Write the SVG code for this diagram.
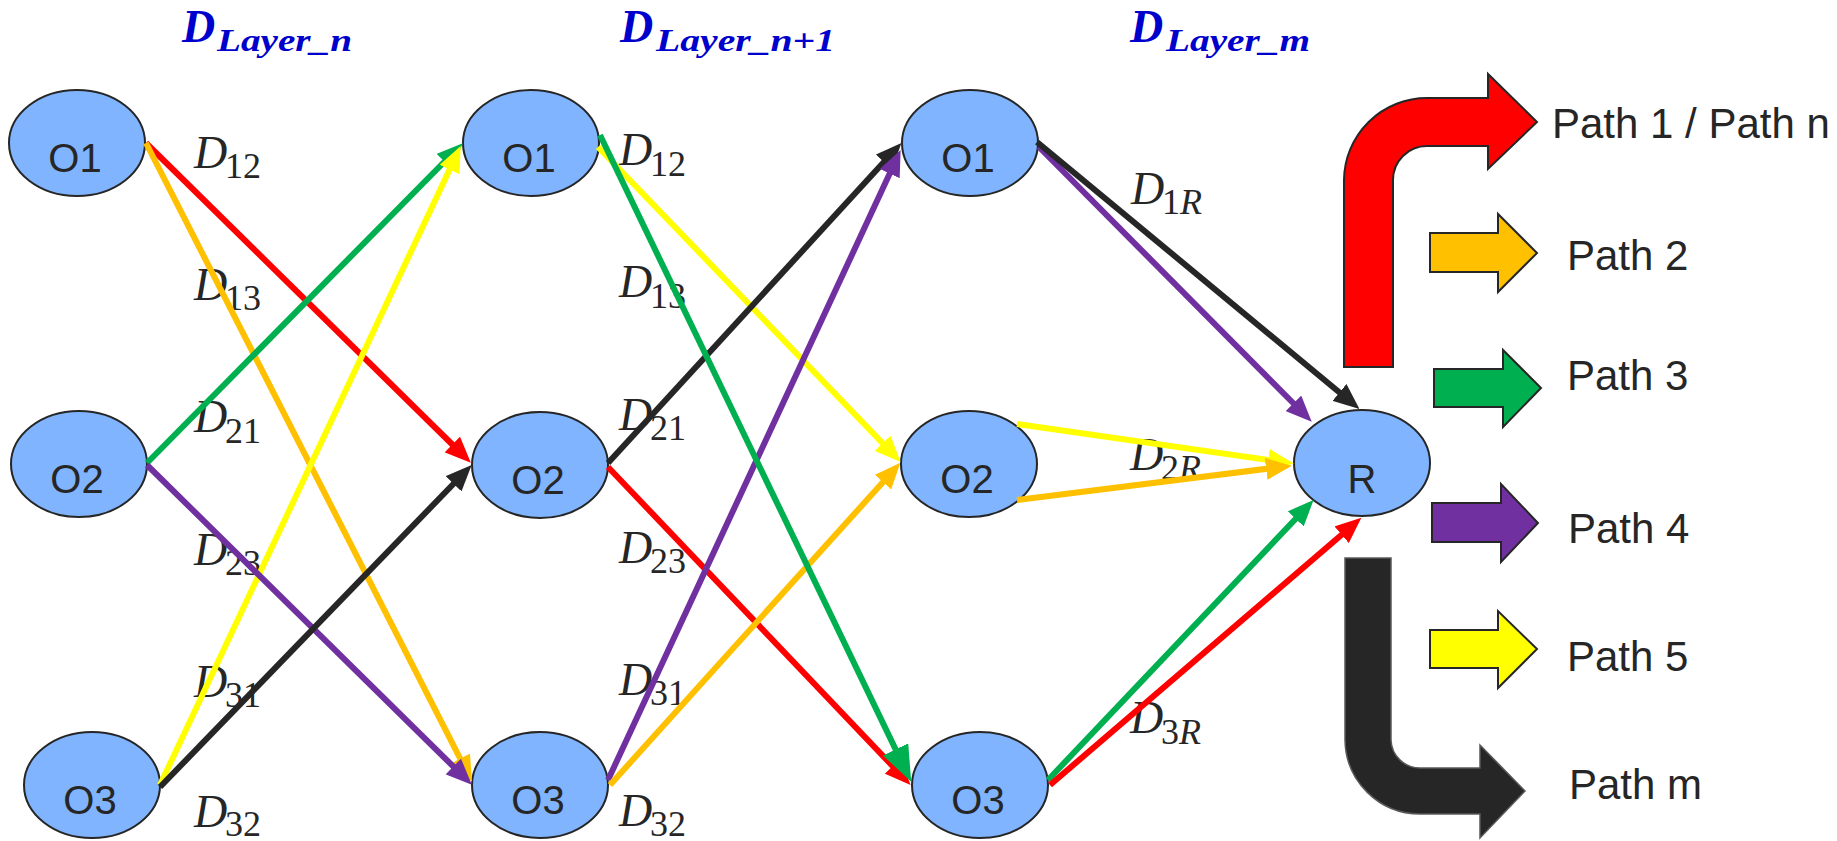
<svg xmlns="http://www.w3.org/2000/svg" width="1837" height="841" viewBox="0 0 1837 841">
<style>
.node ellipse{fill:#80B4FF;stroke:#262626;stroke-width:2}
.node text{font-family:"Liberation Sans",Arial,sans-serif;font-size:40px;fill:#262626;text-anchor:middle}
.lbl{font-family:"Liberation Serif","Times New Roman",serif;font-style:italic;font-size:46px;fill:#262626}
.sub{font-family:"Liberation Serif","Times New Roman",serif;font-style:normal;font-size:36px;fill:#262626}
.title{font-family:"Liberation Serif","Times New Roman",serif;font-weight:bold;font-style:italic;fill:#0000CC}
.leg{font-family:"Liberation Sans",Arial,sans-serif;font-size:42px;fill:#262626}
.blk{stroke:#262626;stroke-width:2}
.e{fill:none;stroke-width:6}
</style>
<defs>
<marker id="mR" markerUnits="userSpaceOnUse" markerWidth="26" markerHeight="22" refX="15" refY="11" orient="auto" viewBox="0 0 26 22"><path d="M0,0 L26,11 L0,22 z" fill="#FF0000"/></marker>
<marker id="mO" markerUnits="userSpaceOnUse" markerWidth="26" markerHeight="22" refX="15" refY="11" orient="auto" viewBox="0 0 26 22"><path d="M0,0 L26,11 L0,22 z" fill="#FFC000"/></marker>
<marker id="mG" markerUnits="userSpaceOnUse" markerWidth="26" markerHeight="22" refX="15" refY="11" orient="auto" viewBox="0 0 26 22"><path d="M0,0 L26,11 L0,22 z" fill="#00B050"/></marker>
<marker id="mGT" markerUnits="userSpaceOnUse" markerWidth="36" markerHeight="28" refX="24" refY="14" orient="auto" viewBox="0 0 36 28"><path d="M0,0 L36,14 L0,28 z" fill="#00B050"/></marker>
<marker id="mY" markerUnits="userSpaceOnUse" markerWidth="26" markerHeight="22" refX="15" refY="11" orient="auto" viewBox="0 0 26 22"><path d="M0,0 L26,11 L0,22 z" fill="#FFFF00"/></marker>
<marker id="mP" markerUnits="userSpaceOnUse" markerWidth="26" markerHeight="22" refX="15" refY="11" orient="auto" viewBox="0 0 26 22"><path d="M0,0 L26,11 L0,22 z" fill="#7030A0"/></marker>
<marker id="mK" markerUnits="userSpaceOnUse" markerWidth="26" markerHeight="22" refX="15" refY="11" orient="auto" viewBox="0 0 26 22"><path d="M0,0 L26,11 L0,22 z" fill="#262626"/></marker>
</defs>
<rect width="1837" height="841" fill="#FFFFFF"/>

<g id="titles">
<text class="title" x="182" y="42" font-size="46">D</text>
<text class="title" x="217" y="51" font-size="31" textLength="135" lengthAdjust="spacingAndGlyphs">Layer_n</text>
<text class="title" x="620" y="42" font-size="46">D</text>
<text class="title" x="656" y="51" font-size="31" textLength="179" lengthAdjust="spacingAndGlyphs">Layer_n+1</text>
<text class="title" x="1130" y="42" font-size="46">D</text>
<text class="title" x="1166" y="51" font-size="31" textLength="144" lengthAdjust="spacingAndGlyphs">Layer_m</text>
</g>

<g id="edge-labels">
<text class="lbl" x="194" y="168">D</text><text class="sub" x="225" y="178">12</text>
<text class="lbl" x="194" y="300">D</text><text class="sub" x="225" y="310">13</text>
<text class="lbl" x="194" y="432">D</text><text class="sub" x="225" y="443">21</text>
<text class="lbl" x="194" y="565">D</text><text class="sub" x="225" y="575">23</text>
<text class="lbl" x="194" y="697">D</text><text class="sub" x="225" y="707">31</text>
<text class="lbl" x="194" y="827">D</text><text class="sub" x="225" y="836">32</text>
<text class="lbl" x="619" y="165">D</text><text class="sub" x="650" y="176">12</text>
<text class="lbl" x="619" y="297">D</text><text class="sub" x="650" y="308">13</text>
<text class="lbl" x="619" y="430">D</text><text class="sub" x="650" y="440">21</text>
<text class="lbl" x="619" y="563">D</text><text class="sub" x="650" y="573">23</text>
<text class="lbl" x="619" y="695">D</text><text class="sub" x="650" y="705">31</text>
<text class="lbl" x="619" y="826">D</text><text class="sub" x="650" y="836">32</text>
<text class="lbl" x="1131" y="204">D</text><text class="sub" x="1162" y="214">1<tspan font-style="italic">R</tspan></text>
<text class="lbl" x="1130" y="470">D</text><text class="sub" x="1161" y="480">2<tspan font-style="italic">R</tspan></text>
<text class="lbl" x="1130" y="733">D</text><text class="sub" x="1161" y="744">3<tspan font-style="italic">R</tspan></text>
</g>

<g id="n1-O1" class="node"><ellipse cx="77" cy="143" rx="68" ry="53"/><text x="75" y="172">O1</text></g>
<g id="n1-O2" class="node"><ellipse cx="79" cy="464" rx="68" ry="53"/><text x="77" y="493">O2</text></g>
<g id="n1-O3" class="node"><ellipse cx="92" cy="785" rx="68" ry="53"/><text x="90" y="814">O3</text></g>
<g id="n2-O1" class="node"><ellipse cx="531" cy="143" rx="68" ry="53"/><text x="529" y="172">O1</text></g>
<g id="n2-O2" class="node"><ellipse cx="540" cy="465" rx="68" ry="53"/><text x="538" y="494">O2</text></g>
<g id="n2-O3" class="node"><ellipse cx="540" cy="785" rx="68" ry="53"/><text x="538" y="814">O3</text></g>
<g id="n3-O1" class="node"><ellipse cx="970" cy="143" rx="68" ry="53"/><text x="968" y="172">O1</text></g>
<g id="n3-O2" class="node"><ellipse cx="969" cy="464" rx="68" ry="53"/><text x="967" y="493">O2</text></g>
<g id="n3-O3" class="node"><ellipse cx="980" cy="785" rx="68" ry="53"/><text x="978" y="814">O3</text></g>
<g id="n-R" class="node"><ellipse cx="1362" cy="463" rx="68" ry="53"/><text x="1362" y="493">R</text></g>

<g id="connectors">
<line class="e" x1="146" y1="143" x2="463" y2="455" stroke="#FF0000" marker-end="url(#mR)"/>
<line class="e" x1="146" y1="143" x2="467" y2="772" stroke="#FFC000" marker-end="url(#mO)"/>
<line class="e" x1="147" y1="463" x2="455" y2="151" stroke="#00B050" marker-end="url(#mG)"/>
<line class="e" x1="160" y1="785" x2="456" y2="156" stroke="#FFFF00" marker-end="url(#mY)"/>
<line class="e" x1="147" y1="465" x2="464" y2="777" stroke="#7030A0" marker-end="url(#mP)"/>
<line class="e" x1="160" y1="787" x2="464" y2="473" stroke="#262626" stroke-width="7" marker-end="url(#mK)"/>

<line class="e" x1="598" y1="147" x2="893" y2="454" stroke="#FFFF00" marker-end="url(#mY)"/>
<line class="e" x1="608" y1="463" x2="894" y2="151" stroke="#262626" stroke-width="7" marker-end="url(#mK)"/>
<line class="e" x1="608" y1="467" x2="903" y2="777" stroke="#FF0000" marker-end="url(#mR)"/>
<line class="e" x1="608" y1="780" x2="896" y2="160" stroke="#7030A0" marker-end="url(#mP)"/>
<line class="e" x1="610" y1="785" x2="893" y2="471" stroke="#FFC000" marker-end="url(#mO)"/>
<line class="e" x1="600" y1="135" x2="906" y2="771" stroke="#00B050" stroke-width="10" marker-end="url(#mGT)"/>

<line class="e" x1="1039" y1="147" x2="1304" y2="414" stroke="#7030A0" marker-end="url(#mP)"/>
<line class="e" x1="1037" y1="142" x2="1351" y2="402" stroke="#262626" stroke-width="7" marker-end="url(#mK)"/>
<line class="e" x1="1017" y1="424" x2="1283" y2="462" stroke="#FFFF00" marker-end="url(#mY)"/>
<line class="e" x1="1017" y1="500" x2="1281" y2="467" stroke="#FFC000" stroke-width="7" marker-end="url(#mO)"/>
<line class="e" x1="1048" y1="780" x2="1306" y2="508" stroke="#00B050" marker-end="url(#mG)"/>
<line class="e" x1="1050" y1="785" x2="1353" y2="525" stroke="#FF0000" stroke-width="7" marker-end="url(#mR)"/>
</g>

<g id="legend">
<g id="leg-path1">
<path class="blk" fill="#FF0000" d="M1344,367 L1344,180 A83,83 0 0 1 1427,98 L1488,98 L1488,74 L1537,122 L1488,169 L1488,146 L1427,146 A34,34 0 0 0 1393,180 L1393,367 Z"/>
<text class="leg" x="1552" y="138">Path 1 / Path n</text>
</g>
<g id="leg-path2">
<path class="blk" fill="#FFC000" d="M1430,233 L1498,233 L1498,214 L1537,253 L1498,292 L1498,272 L1430,272 Z"/>
<text class="leg" x="1567" y="270">Path 2</text>
</g>
<g id="leg-path3">
<path class="blk" fill="#00B050" d="M1434,369 L1503,369 L1503,350 L1541,388 L1503,427 L1503,407 L1434,407 Z"/>
<text class="leg" x="1567" y="390">Path 3</text>
</g>
<g id="leg-path4">
<path class="blk" fill="#7030A0" d="M1432,503 L1501,503 L1501,484 L1538,523 L1501,562 L1501,542 L1432,542 Z"/>
<text class="leg" x="1568" y="543">Path 4</text>
</g>
<g id="leg-path5">
<path class="blk" fill="#FFFF00" d="M1430,630 L1498,630 L1498,611 L1537,649 L1498,688 L1498,668 L1430,668 Z"/>
<text class="leg" x="1567" y="671">Path 5</text>
</g>
<g id="leg-pathm">
<path fill="#262626" stroke="#595959" stroke-width="1.5" d="M1345,558 L1391,558 L1391,740 A29,29 0 0 0 1420,768 L1480,768 L1480,745 L1525,791 L1480,838 L1480,814 L1420,814 A75,75 0 0 1 1345,740 Z"/>
<text class="leg" x="1569" y="799">Path m</text>
</g>
</g>
</svg>
